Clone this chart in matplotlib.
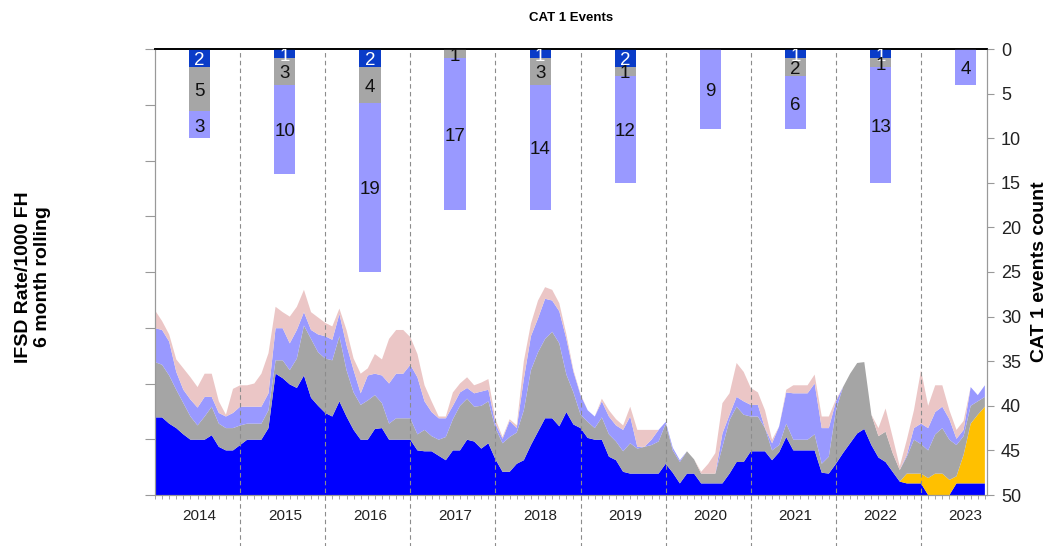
import numpy as np
import matplotlib
matplotlib.use("Agg")
import matplotlib.pyplot as plt
from matplotlib.ticker import MultipleLocator

plt.rcParams["font.family"] = ["Liberation Sans", "DejaVu Sans"]

YEARS = ["2014", "2015", "2016", "2017", "2018",
         "2019", "2020", "2021", "2022", "2023"]

# CAT 1 events per year, stacked down from the top (right axis)
CAT1_DARK = [2, 1, 2, 0, 1, 2, 0, 1, 1, 0]
CAT1_GRAY = [5, 3, 4, 1, 3, 1, 0, 2, 1, 0]
CAT1_LIGHT = [3, 10, 19, 17, 14, 12, 9, 6, 13, 4]

# monthly IFSD rate layers, Jan 2014 .. Oct 2023 (left axis, unlabelled)
IFSD_BLUE = [
    8.7, 8.7, 8.0, 7.5, 6.8, 6.2, 6.2, 6.2, 6.7, 5.4, 5.0, 5.0,
    5.6, 6.2, 6.2, 6.2, 7.5, 13.6, 13.1, 12.4, 12.0, 13.4, 10.9, 10.0,
    9.2, 8.8, 10.5, 8.8, 7.3, 6.2, 6.2, 7.4, 7.5, 6.2, 6.2, 6.2,
    6.2, 5.0, 4.9, 4.9, 4.4, 3.9, 5.0, 5.0, 6.2, 6.0, 5.2, 5.8,
    4.0, 2.6, 2.6, 3.5, 3.9, 5.6, 7.1, 8.6, 8.6, 7.7, 9.3, 7.9,
    7.5, 6.4, 6.2, 6.2, 4.3, 3.9, 2.6, 2.4, 2.4, 2.4, 2.4, 2.4,
    3.5, 2.5, 1.3, 2.4, 2.4, 1.3, 1.3, 1.3, 1.3, 2.4, 3.7, 3.7,
    4.9, 4.9, 4.9, 3.9, 4.8, 6.5, 5.0, 5.0, 5.0, 5.0, 2.5, 2.4,
    3.5, 4.7, 5.8, 6.9, 7.4, 5.6, 4.2, 3.7, 2.6, 1.5, 1.3, 1.3,
    1.3, 0.0, 0.0, 0.0, 0.0, 1.3, 1.3, 1.3, 1.3, 1.3,
]
IFSD_ORANGE = [0.0] * 106 + [
    1.1, 1.1, 1.1, 1.9, 2.4, 2.4, 1.7, 0.8, 3.2, 6.7, 7.7, 8.6,
]
IFSD_GRAY = [
    6.2, 5.9, 5.4, 4.3, 3.5, 2.6, 1.6, 2.6, 3.2, 2.6, 2.5, 2.5,
    2.2, 1.8, 1.8, 1.8, 2.0, 1.5, 2.0, 1.6, 3.3, 5.6, 6.6, 6.0,
    6.1, 6.3, 7.3, 5.2, 4.2, 3.9, 4.4, 3.8, 2.8, 1.8, 2.4, 2.4,
    2.4, 1.8, 2.4, 1.7, 1.8, 2.6, 3.5, 5.0, 4.6, 3.9, 4.8, 4.7,
    3.5, 3.2, 3.9, 3.5, 5.6, 8.4, 8.9, 8.9, 9.7, 9.3, 4.2, 3.6,
    1.5, 1.8, 1.3, 2.5, 2.5, 2.1, 2.3, 3.4, 2.8, 3.0, 3.2, 3.6,
    4.5, 2.5, 2.4, 2.5, 1.6, 1.1, 1.1, 1.1, 4.1, 6.0, 6.2, 5.3,
    3.9, 3.9, 2.6, 1.1, 0.8, 1.5, 1.2, 1.2, 1.2, 1.8, 1.0, 1.9,
    6.0, 7.4, 7.8, 7.9, 7.5, 3.4, 2.4, 3.4, 2.1, 1.3, 1.9, 3.8,
    3.3, 3.1, 4.4, 5.1, 4.5, 3.5, 2.1, 2.0, 1.5, 1.1,
]
IFSD_PURPLE = [
    3.8, 3.9, 3.8, 2.0, 1.5, 1.9, 2.0, 2.2, 1.1, 1.2, 1.3, 1.7,
    2.1, 1.9, 1.9, 1.9, 1.9, 3.6, 3.6, 3.0, 3.2, 1.5, 1.0, 2.0,
    2.5, 2.3, 2.5, 2.8, 2.5, 1.3, 2.8, 2.4, 3.1, 4.5, 5.0, 5.0,
    6.0, 6.4, 3.2, 2.7, 2.4, 2.1, 1.5, 1.5, 1.2, 1.5, 1.6, 1.3,
    0.5, 0.5, 1.8, 0.5, 3.5, 3.8, 3.8, 4.5, 3.5, 3.6, 4.0, 2.3,
    2.2, 1.3, 1.3, 1.8, 2.0, 1.8, 2.4, 3.0, 0.2, 0.0, 0.6, 1.3,
    0.2, 0.3, 0.2, 0.0, 0.0, 0.0, 0.0, 0.0, 1.5, 0.6, 1.1, 1.5,
    1.3, 1.3, 0.0, 0.8, 2.1, 3.5, 5.2, 5.2, 5.2, 5.7, 4.0, 3.2,
    1.0, 0.0, 0.0, 0.0, 0.0, 0.0, 0.0, 0.0, 0.0, 0.0, 0.2, 1.3,
    2.3, 2.5, 2.5, 2.4, 2.3, 0.7, 0.7, 2.1, 0.7, 1.3,
]
IFSD_PINK = [
    2.0, 1.0, 0.8, 1.4, 2.4, 2.5, 2.3, 2.6, 2.6, 1.3, 0.2, 2.7,
    2.4, 2.4, 2.6, 3.7, 4.5, 2.4, 1.8, 3.0, 2.6, 2.5, 2.0, 1.9,
    1.5, 1.5, 0.6, 1.7, 1.3, 2.2, 0.8, 2.2, 1.8, 5.0, 4.9, 4.9,
    3.1, 2.6, 1.8, 1.2, 0.2, 0.2, 1.5, 1.0, 1.2, 0.9, 1.0, 1.2,
    0.5, 0.2, 0.2, 0.3, 2.0, 1.4, 2.0, 1.3, 1.2, 0.9, 0.5, 0.2,
    0.1, 0.0, 0.0, 0.3, 0.7, 0.7, 0.5, 1.1, 1.9, 1.9, 1.1, 0.0,
    0.0, 0.0, 0.0, 0.0, 0.0, 0.2, 1.1, 2.3, 3.4, 2.4, 3.8, 3.3,
    1.9, 1.4, 2.0, 0.4, 0.0, 0.3, 0.9, 0.9, 0.9, 1.0, 1.3, 1.3,
    0.2, 0.0, 0.0, 0.0, 0.0, 0.0, 0.9, 2.6, 1.8, 0.4, 1.7, 2.0,
    6.0, 2.5, 3.0, 2.4, 1.0, 1.0, 1.0, 0.0, 0.0, 0.0,
]

W, H = 1061, 546
fig = plt.figure(figsize=(W / 100, H / 100), dpi=100)
ax = fig.add_axes([155 / W, 51 / H, 832 / W, 446 / H])

months = np.arange(len(IFSD_BLUE))
ax.stackplot(months, IFSD_BLUE, IFSD_ORANGE, IFSD_GRAY, IFSD_PURPLE, IFSD_PINK,
             colors=["#0000FF", "#FFC000", "#A5A5A5", "#9999FF", "#EBC6C6"],
             linewidth=0)
ax.set_xlim(0, 117.3)
ax.set_ylim(0, 50)
ax.yaxis.set_major_locator(MultipleLocator(6.25))
ax.tick_params(axis="y", labelleft=False, length=7, color="#999999")

# year labels sit mid-year, month ticks underneath
pos = np.arange(len(YEARS)) * 12 + 6.3
ax.set_xticks(pos)
ax.set_xticklabels(YEARS)
ax.set_xticks(np.arange(0, 118), minor=True)
ax.tick_params(axis="x", which="major", length=0, pad=10, labelsize=11,
               labelcolor="#222222")
ax.tick_params(axis="x", which="minor", length=3, color="#999999")

for k in range(1, len(YEARS)):
    ax.axvline(12 * k, ymin=-0.12, ymax=1, color="#8c8c8c", lw=0.8,
               ls=(0, (4, 3)), clip_on=False, zorder=3)

ax2 = ax.twinx()
ax2.set_ylim(50, 0)
ax2.yaxis.set_major_locator(MultipleLocator(5))
ax2.tick_params(axis="y", labelsize=13, labelcolor="#222222", length=5,
                color="#999999", pad=5)

dark = np.array(CAT1_DARK)
gray = np.array(CAT1_GRAY)
light = np.array(CAT1_LIGHT)
segs = [(dark, 0, "#0A3CC8", "white"),
        (gray, dark, "#A6A6A6", "#111111"),
        (light, dark + gray, "#9999FF", "#111111")]
for vals, bot, col, tcol in segs:
    ax2.bar(pos, vals, width=3, bottom=bot, color=col, linewidth=0)
    bot = np.zeros(len(vals)) + bot
    for x, v, b in zip(pos, vals, bot):
        if v > 0:
            t = ax2.text(x, b + v / 2 + 0.3, str(v), ha="center", va="center",
                         fontsize=13.5, color=tcol)
            t.set_clip_on(True)

for a in (ax, ax2):
    for side in ("left", "right", "bottom"):
        a.spines[side].set_color("#999999")
    a.spines["top"].set_color("black")
    a.spines["top"].set_linewidth(1.2)

fig.text(571 / W, 1 - 18 / H, "CAT 1 Events", ha="center", va="center",
         fontsize=9.5, fontweight="bold")
fig.text(33 / W, 1 - 277 / H, "IFSD Rate/1000 FH\n6 month rolling",
         rotation=90, ha="center", va="center", fontsize=14,
         fontweight="bold", multialignment="center")
fig.text(1040 / W, 1 - 272 / H, "CAT 1 events count", rotation=90,
         ha="center", va="center", fontsize=14, fontweight="bold")

fig.savefig("out.png", dpi=100)
